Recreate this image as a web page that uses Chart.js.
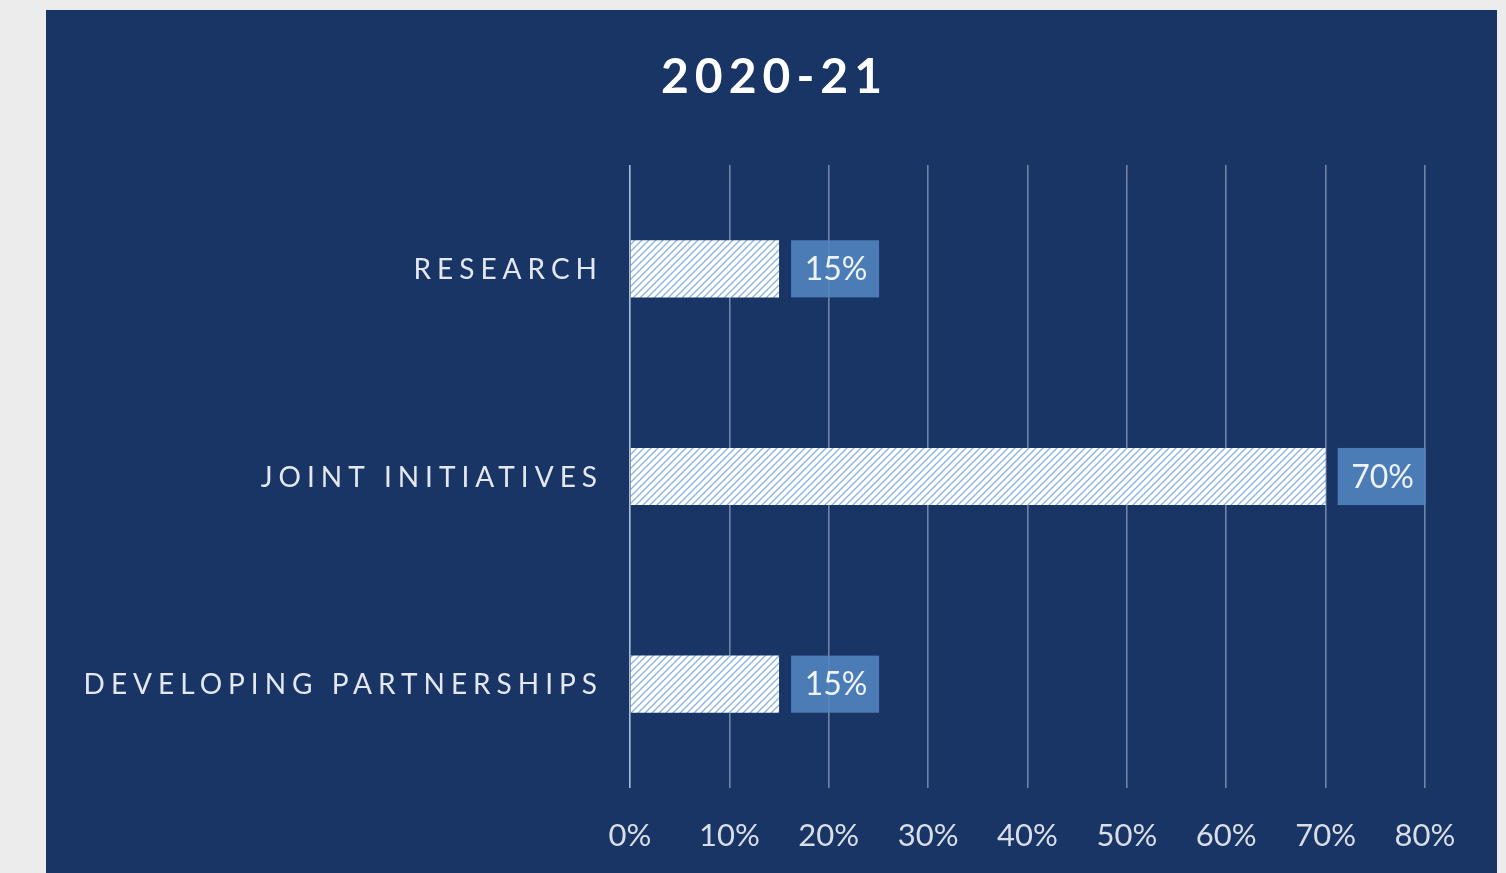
<!DOCTYPE html>
<html>
<head>
<meta charset="utf-8">
<script src="https://cdn.jsdelivr.net/npm/chart.js@4"></script>
<style>
  html, body { margin: 0; padding: 0; background: #ececec; }
  #panel { position: absolute; left: 46px; top: 10px; width: 1451px; height: 863px; background: #193566; }
  canvas { display: block; }
</style>
</head>
<body>
<div id="panel"><canvas id="chart"></canvas></div>
<script>
const chartTitle = "2020-21";
const categories = ["RESEARCH", "JOINT INITIATIVES", "DEVELOPING PARTNERSHIPS"];
const shares = [15, 70, 15];
const tickValues = [0, 10, 20, 30, 40, 50, 60, 70, 80];

const canvas = document.getElementById("chart");

// white tile with thin blue diagonal lines
function makeHatch() {
  const c = document.createElement("canvas");
  c.width = 7;
  c.height = 7;
  const g = c.getContext("2d");
  g.fillStyle = "#ffffff";
  g.fillRect(0, 0, 7, 7);
  g.strokeStyle = "#86b3e3";
  g.lineWidth = 1.3;
  g.beginPath();
  g.moveTo(0, 7); g.lineTo(7, 0);
  g.moveTo(-3.5, 3.5); g.lineTo(3.5, -3.5);
  g.moveTo(3.5, 10.5); g.lineTo(10.5, 3.5);
  g.stroke();
  return canvas.getContext("2d").createPattern(c, "repeat");
}

const spacedText = {
  id: "spacedText",
  afterDraw(chart) {
    const ctx = chart.ctx;
    const yScale = chart.scales.y;
    ctx.save();
    ctx.textBaseline = "middle";
    ctx.fillStyle = "#ffffff";
    ctx.font = "bold 48px Lato";
    ctx.letterSpacing = "6px";
    ctx.textAlign = "center";
    ctx.fillText(chartTitle, chart.width / 2 + 3, 68);

    ctx.font = "28px Lato";
    ctx.letterSpacing = "6px";
    ctx.textAlign = "right";
    ctx.fillStyle = "#e4e8ee";
    categories.forEach((c, i) => {
      ctx.fillText(c, 557, yScale.getPixelForTick(i) + 1);
    });
    ctx.restore();
  }
};

const valueBoxes = {
  id: "valueBoxes",
  afterDatasetsDraw(chart) {
    const ctx = chart.ctx;
    const meta = chart.getDatasetMeta(0);
    ctx.save();
    meta.data.forEach((bar, i) => {
      const p = bar.getProps(["x", "y", "height"], true);
      const left = p.x + 12;
      const top = p.y - p.height / 2;
      ctx.fillStyle = "rgba(83,134,194,0.87)";
      ctx.fillRect(left, top, 88, p.height);
      ctx.fillStyle = "#eef3fa";
      ctx.font = "32px Lato";
      ctx.textAlign = "center";
      ctx.textBaseline = "middle";
      ctx.fillText(shares[i] + "%", left + 45, p.y + 1);
    });
    ctx.restore();
  }
};

new Chart(canvas, {
  type: "bar",
  data: {
    labels: categories,
    datasets: [{
      data: shares,
      backgroundColor: makeHatch(),
      borderWidth: 0,
      categoryPercentage: 1,
      barPercentage: 0.275
    }]
  },
  options: {
    indexAxis: "y",
    responsive: true,
    maintainAspectRatio: false,
    animation: false,
    layout: { padding: { top: 155, right: 72, bottom: 0, left: 0 } },
    plugins: {
      legend: { display: false },
      tooltip: { enabled: false }
    },
    scales: {
      x: {
        min: 0,
        max: 80,
        afterBuildTicks: (scale) => { scale.ticks = tickValues.map((v) => ({ value: v })); },
        afterFit: (scale) => { scale.height = 85; },
        border: { display: false },
        grid: {
          drawTicks: false,
          lineWidth: 1.6,
          color: (c) => (c.tick && c.tick.value === 0 ? "rgba(190,215,240,0.85)" : "rgba(200,210,225,0.5)")
        },
        ticks: {
          padding: 29,
          color: "#d9dee6",
          font: { family: "Lato", size: 31 },
          callback: (v) => v + "%"
        }
      },
      y: {
        afterFit: (scale) => { scale.width = 584; },
        border: { display: false },
        grid: { display: false },
        ticks: { display: false }
      }
    }
  },
  plugins: [valueBoxes, spacedText]
});
</script>
</body>
</html>
